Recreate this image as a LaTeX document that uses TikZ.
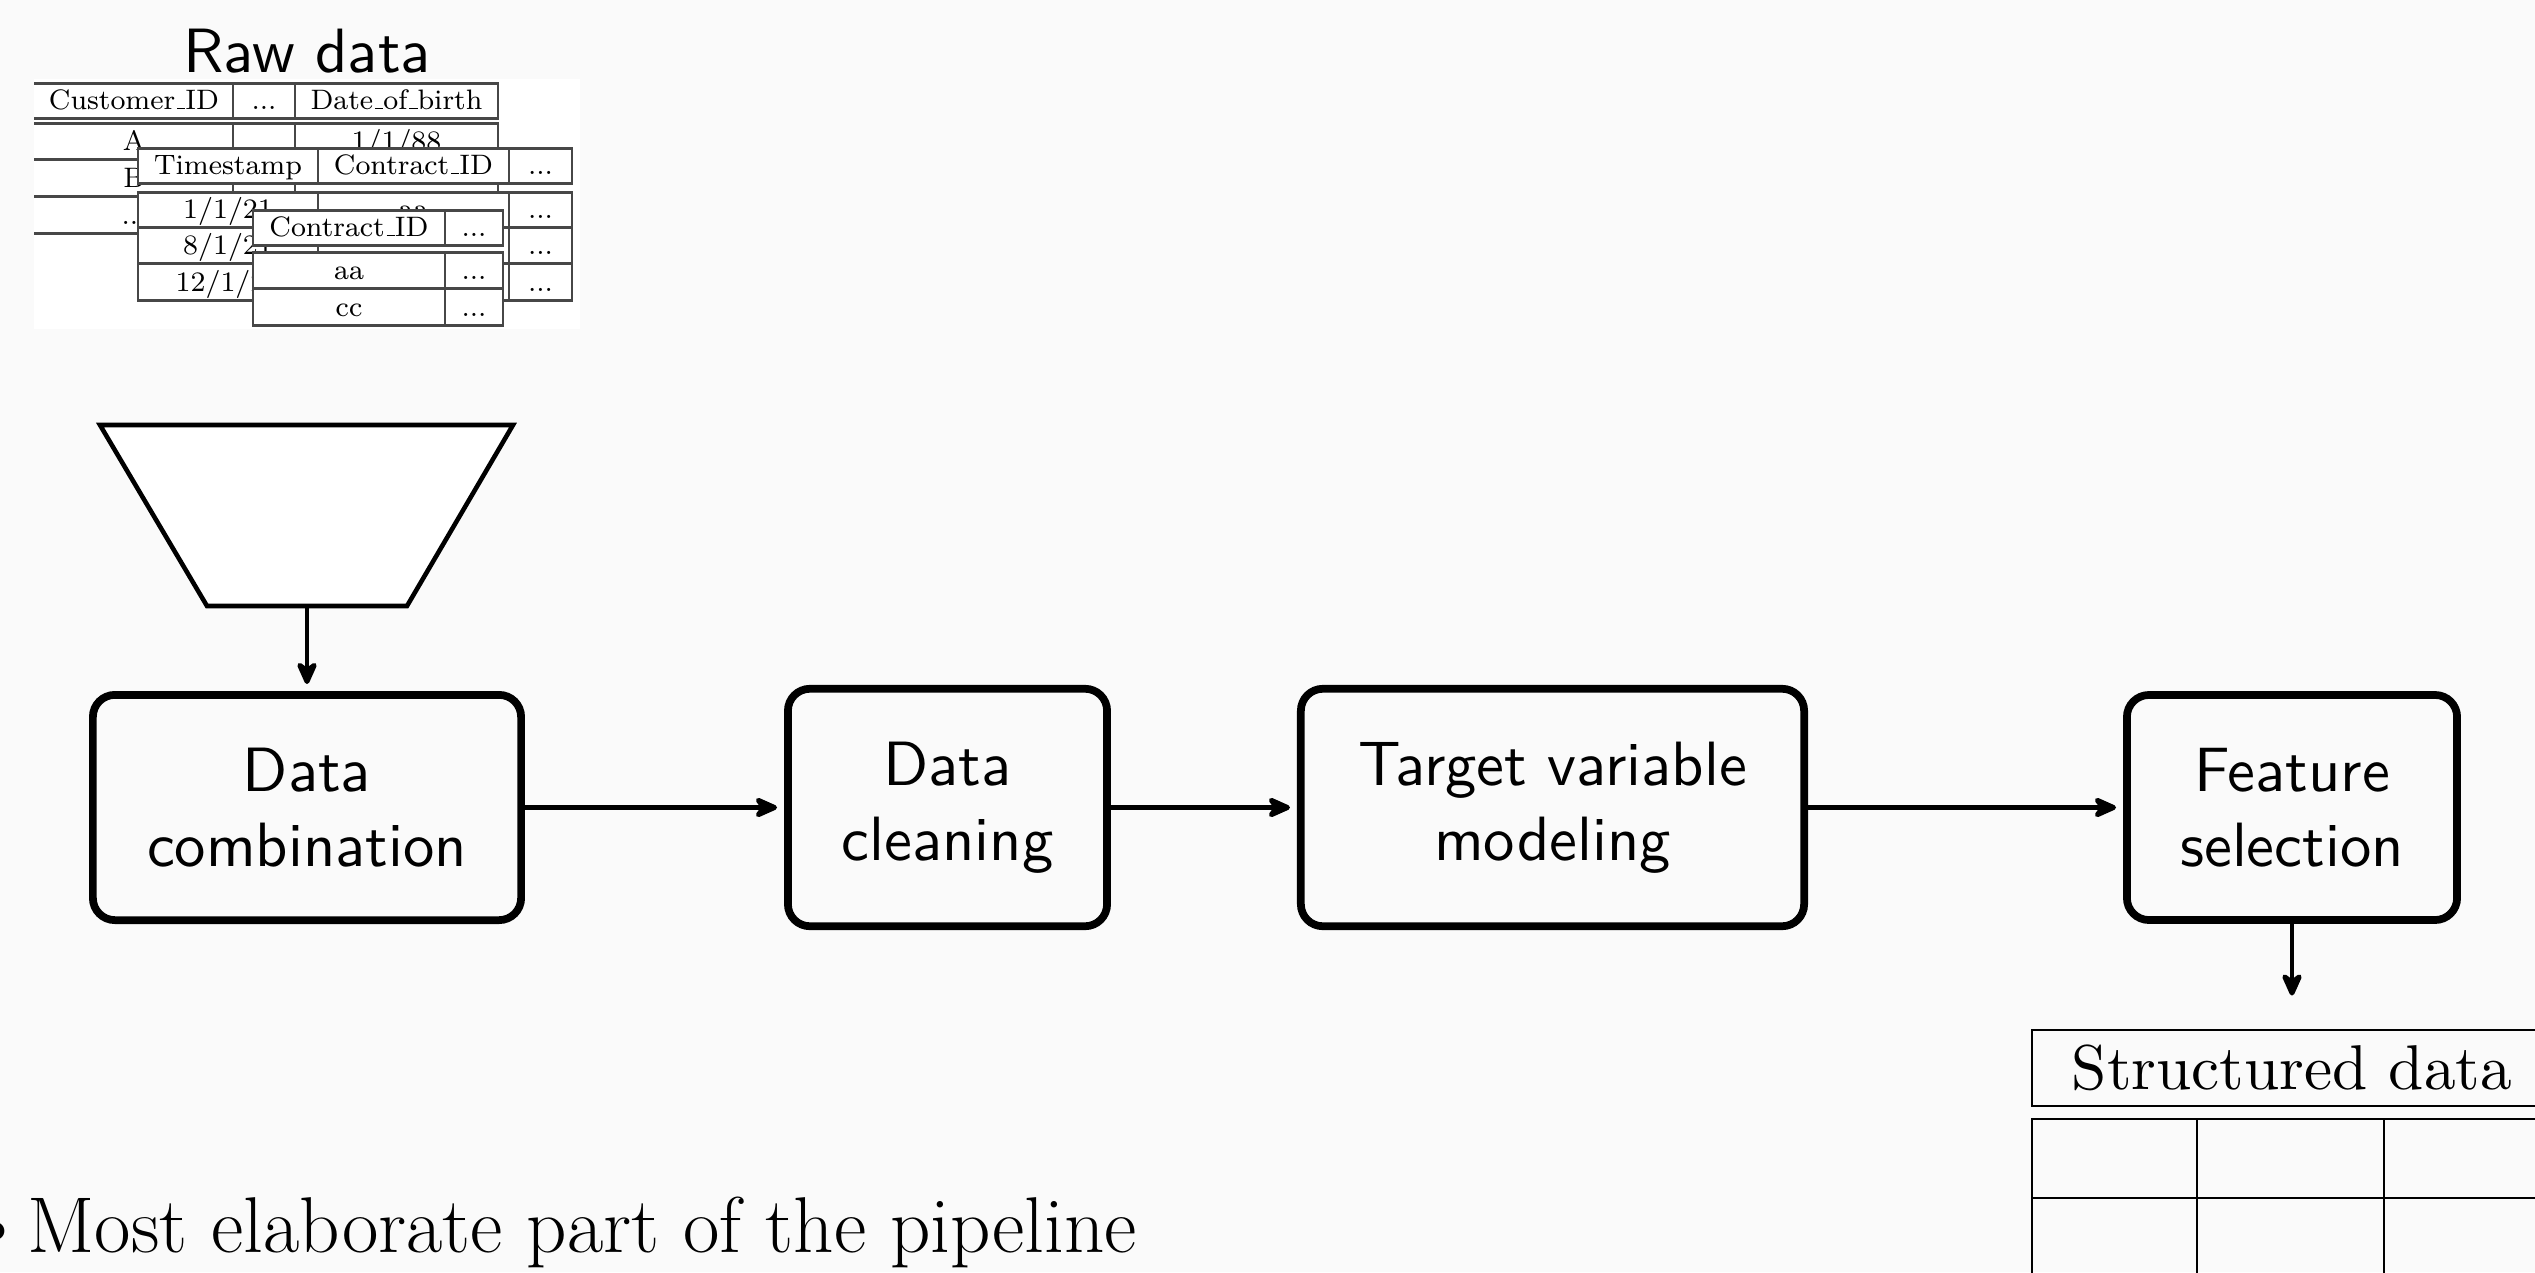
\documentclass[tikz,border=0pt]{standalone}
\usetikzlibrary{arrows.meta}
\definecolor{bgc}{HTML}{FAFAFA}
\DeclareFontFamily{TU}{lmssten}{}
\DeclareFontShape{TU}{lmssten}{m}{n}{<-> "[lmsans10-regular]:mapping=tex-text"}{}
\DeclareFontFamily{TU}{lmrten}{}
\DeclareFontShape{TU}{lmrten}{m}{n}{<-> "[lmroman10-regular]:mapping=tex-text"}{}
\newcommand\usc{\leavevmode\kern.06em\vbox{\hrule width.3em}}
\newcommand\bigsans{\fontfamily{lmssten}\fontsize{17.8}{21.3}\selectfont}
\newcommand\bigserif{\fontfamily{lmrten}\fontsize{18}{21.6}\selectfont}
\begin{document}
\begin{tikzpicture}[x=0.01cm,y=-0.01cm,
  proc/.style={draw, line width=2.2pt, rounded corners=0.22cm, align=center,
    font=\bigsans, inner xsep=15pt, inner ysep=15.1pt},
  arr/.style={line width=1.4pt, -{Stealth[round,length=8.4pt,width=7.4pt]}, shorten >=2pt},
  tl/.style={line width=0.85pt, draw=black!72},
  tw/.style={tl, fill=white},
  tt/.style={font=\fontsize{8}{9.6}\selectfont, anchor=base, inner sep=0pt},
  sdl/.style={line width=0.6pt},
]
\useasboundingbox (0,0) rectangle (2535,1272);
\fill[bgc] (0,0) rectangle (2535,1272);

% ---------- Raw data ----------
\node[font=\bigsans, anchor=base, inner sep=0pt] (rawtitle) at (307,72) {Raw data};

\begin{scope}
  \clip (34,79) rectangle (580,329);
  \fill[white] (34,79) rectangle (580,329);
  % table 1
  \draw[tl] (25,83) rectangle (498,118) (233,83) -- (233,118) (295,83) -- (295,118);
  \draw[tl] (25,123) rectangle (498,233) (25,159) -- (498,159) (25,196) -- (498,196)
            (233,123) -- (233,233) (295,123) -- (295,233);
  \node[tt] (a1) at (134,109) {Customer\usc ID};
  \node[tt] (a2) at (264,109) {...};
  \node[tt] (a3) at (396.5,109) {Date\usc of\usc birth};
  \node[tt] (a4) at (134,150) {A};
  \node[tt] (a5) at (396.5,150) {1/1/88};
  \node[tt] (a6) at (134,187) {B};
  \node[tt] (a7) at (134,224) {...};
  % table 2
  \filldraw[tw] (138,148) rectangle (572,183);
  \draw[tl] (318,148) -- (318,183) (509,148) -- (509,183);
  \filldraw[tw] (138,192) rectangle (572,300);
  \draw[tl] (138,227) -- (572,227) (138,263) -- (572,263)
            (318,192) -- (318,300) (509,192) -- (509,300);
  \node[tt] (b1) at (228,174) {Timestamp};
  \node[tt] (b2) at (413.5,174) {Contract\usc ID};
  \node[tt] (b3) at (540.5,174) {...};
  \node[tt] (b4) at (228,218) {1/1/21};
  \node[tt] (b5) at (413.5,218) {aa};
  \node[tt] (b6) at (540.5,218) {...};
  \node[tt] (b7) at (228,254) {8/1/21};
  \node[tt] (b8) at (540.5,254) {...};
  \node[tt] (b9) at (228,291) {12/1/21};
  \node[tt] (b10) at (540.5,291) {...};
  % table 3
  \filldraw[tw] (253,210) rectangle (503,245);
  \draw[tl] (445,210) -- (445,245);
  \filldraw[tw] (253,252) rectangle (503,325);
  \draw[tl] (253,288) -- (503,288) (445,252) -- (445,325);
  \node[tt] (c1) at (349,236) {Contract\usc ID};
  \node[tt] (c2) at (474,236) {...};
  \node[tt] (c3) at (349,279) {aa};
  \node[tt] (c4) at (474,279) {...};
  \node[tt] (c5) at (349,316) {cc};
  \node[tt] (c6) at (474,316) {...};
\end{scope}

% ---------- funnel ----------
\filldraw[fill=white, line width=1.3pt] (100,425) -- (513,425) -- (407,606) -- (207,606) -- cycle;
\coordinate (funnelbot) at (307,606);

% ---------- process boxes ----------
\node[proc, minimum width=4.28cm] (comb) at (307,807.5) {Data\\combination};
\node[proc, minimum width=3.19cm] (clean) at (947.5,807.5) {Data\\cleaning};
\node[proc, minimum width=5.03cm] (target) at (1552.5,807.5) {Target variable\\modeling};
\node[proc, minimum width=3.30cm] (feat) at (2292,807.5) {Feature\\selection};

% ---------- structured data ----------
\node[draw, sdl, minimum width=5.2cm, minimum height=0.76cm, inner sep=0pt,
      font=\bigserif] (sd) at (2292,1068) {Structured data};
\draw[sdl] (2032,1400) -- (2032,1119) -- (2700,1119)
           (2032,1198) -- (2700,1198)
           (2197,1119) -- (2197,1400)
           (2384,1119) -- (2384,1400);

% ---------- arrows ----------
\draw[arr] (funnelbot) -- (comb);
\draw[arr] (comb) -- (clean);
\draw[arr] (clean) -- (target);
\draw[arr] (target) -- (feat);
\draw[arr, shorten >=9.5pt] (feat) -- (sd);

% ---------- bottom text ----------
\node[anchor=base west, inner sep=0pt, font=\fontsize{22.5}{27}\selectfont] (elab) at (27,1252) {Most elaborate part of the pipeline};
\node[anchor=base, inner sep=0pt, font=\fontsize{22.5}{27}\selectfont] (bul) at (-4,1252) {\textbullet};
\end{tikzpicture}
\end{document}
